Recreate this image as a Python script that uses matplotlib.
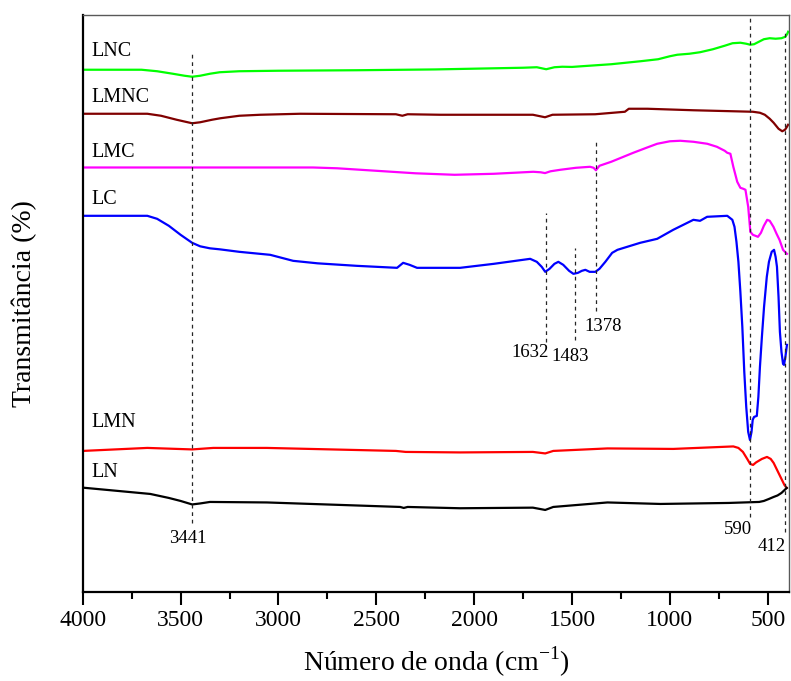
import matplotlib
matplotlib.use("Agg")
import matplotlib.pyplot as plt
from matplotlib.ticker import MultipleLocator

plt.rcParams['font.family'] = ['Liberation Serif', 'DejaVu Serif']
plt.rcParams['mathtext.fontset'] = 'custom'
plt.rcParams['mathtext.rm'] = 'Liberation Serif'

# FTIR spectra (wavenumber in cm-1, transmittance in offset arbitrary units)
lnc_w = [4000, 3700, 3620, 3540, 3480, 3441, 3400, 3350, 3300, 3200, 3000, 2600, 2200, 1750,
         1680, 1632, 1590, 1550, 1500, 1450, 1300, 1150, 1060, 1000, 962, 900, 846, 780,
         720, 680, 640, 610, 590, 570, 545, 520, 490, 460, 430, 410, 400, 396]
lnc_t = [522, 522, 520.5, 518, 516, 515, 516, 518, 519.5, 520.5, 521, 521.5, 522.3, 524,
         524.5, 522.5, 524.5, 525, 524.8, 525.5, 527.5, 530.5, 532.5, 535.5, 537, 538, 539.5, 542.5,
         546, 548.5, 549, 548, 547, 547.5, 550, 552.5, 553.5, 553, 553.5, 555, 558, 560]

lmnc_w = [4000, 3670, 3600, 3520, 3441, 3400, 3340, 3297, 3200, 3093, 2890, 2400, 2367, 2340,
          2173, 1700, 1638, 1600, 1382, 1230, 1210, 1115, 880, 576, 540, 515, 490, 470, 445,
          426, 412, 405, 396]
lmnc_t = [478, 478, 476, 472, 468.5, 469.5, 472, 473.5, 476, 477, 478, 477.5, 476, 477.5,
          477, 477, 474.5, 477, 477.5, 480, 483, 483, 481.5, 480, 479, 477, 473, 469, 463,
          460.5, 462, 464, 467]

lmc_w = [4000, 2823, 2700, 2500, 2300, 2100, 1900, 1698, 1660, 1638, 1610, 1560, 1480, 1408,
         1390, 1378, 1360, 1300, 1187, 1120, 1065, 1000, 947, 880, 809, 760, 720, 707, 691,
         676, 656, 640, 625, 614, 600, 589, 576, 550, 535, 520, 503, 490, 471, 455, 440, 422, 402]
lmc_t = [424.3, 424.3, 423.5, 421, 418.5, 417, 418, 420, 419.5, 418.7, 420.5, 422, 424, 425,
         424, 421.5, 426, 430, 439, 444, 448, 450.5, 451, 450, 448, 445, 441, 439, 438,
         425, 410, 404, 403, 402, 385, 360, 357, 355, 359, 366, 372, 371, 365, 358, 352, 342, 338]

lc_w = [4000, 3670, 3620, 3560, 3500, 3441, 3400, 3350, 3300, 3200, 3042, 2925, 2800, 2600,
        2394, 2363, 2330, 2292, 2072, 1900, 1714, 1680, 1655, 1637, 1615, 1590, 1570, 1545,
        1515, 1493, 1470, 1450, 1432, 1410, 1381, 1360, 1330, 1295, 1268, 1152, 1065, 983,
        880, 846, 810, 707, 681, 670, 660, 650, 640, 630, 620, 610, 600, 591, 583, 577, 570,
        556, 548, 540, 530, 519, 505, 494, 480, 468, 460, 453, 445, 438, 430, 422, 417, 410, 402]
lc_t = [376, 376, 373, 366, 357, 349, 345.5, 343.5, 342.5, 340, 337, 331, 328.5, 326,
        324, 329, 327, 324, 324, 328, 333, 330, 325, 320, 323, 328, 330, 327,
        321, 318, 319, 321, 322, 320, 320, 323, 330, 339, 342, 349, 353, 362,
        372, 371, 375, 376, 372, 365, 350, 330, 300, 265, 220, 185, 160, 152, 160, 172, 175,
        176, 195, 225, 255, 285, 315, 330, 340, 342, 335, 325, 295, 260, 240, 228, 227, 235, 247]

lmn_w = [4000, 3670, 3441, 3333, 3059, 2400, 2350, 2072, 1700, 1637, 1596, 1319, 983, 676,
         650, 627, 605, 590, 575, 560, 530, 504, 485, 470, 450, 430, 415, 403]
lmn_t = [141, 144, 142.5, 144, 144, 141, 140, 139.5, 140, 138.5, 141, 143.5, 143, 145.5,
         144, 140, 133, 128, 127, 129.5, 133, 135, 133, 129, 121, 113, 107, 104]

ln_w = [4000, 3655, 3560, 3500, 3441, 3400, 3350, 3059, 2378, 2360, 2340, 2072, 1700, 1637,
        1596, 1319, 1049, 700, 544, 520, 494, 470, 450, 430, 403]
ln_t = [104.3, 98, 94, 91, 87.5, 88.5, 90, 89.5, 85, 84, 85, 83.7, 84.3, 82,
        85, 89.5, 88, 89, 90, 91, 93, 95, 96.5, 99, 104]

series = [
    ("LNC", lnc_w, lnc_t, "#00ff00", 540),
    ("LMNC", lmnc_w, lmnc_t, "#800000", 494),
    ("LMC", lmc_w, lmc_t, "#ff00ff", 439),
    ("LC", lc_w, lc_t, "#0000ff", 392),
    ("LMN", lmn_w, lmn_t, "#ff0000", 169),
    ("LN", ln_w, ln_t, "#000000", 119),
]

# band markers: wavenumber, dashed segment (bottom, top), label anchor
peaks = [3441, 1632, 1483, 1378, 590, 412]
peak_lines = [(69, 539), (250, 379), (252, 344), (281, 453), (75, 577), (60, 562)]
peak_text = [(3461, 53), (1714, 239), (1510, 235), (1342, 265), (651, 62), (478, 45)]

fig = plt.figure(figsize=(7.91, 6.81), dpi=100)
ax = fig.add_axes([0.1046, 0.1307, 0.893, 0.8477])

for name, w, t, color, ylab in series:
    ax.plot(w, t, color=color, lw=1.6, solid_joinstyle='round')
    ax.text(3958, ylab, name, fontsize=14.5, ha='left', va='center')

for p, (y0, y1), (tx, ty) in zip(peaks, peak_lines, peak_text):
    ax.plot([p, p], [y0, y1], color='0.15', lw=0.9, ls=(0, (3, 3)))
    ax.text(tx, ty, str(p), fontsize=13.5, ha='center', va='center')

ax.set_xlim(4000, 391)
ax.set_ylim(0, 577)
ax.xaxis.set_major_locator(MultipleLocator(500))
ax.xaxis.set_minor_locator(MultipleLocator(250))
ax.tick_params(axis='x', which='major', direction='out', length=9, width=1.5,
               labelsize=17, pad=4)
ax.tick_params(axis='x', which='minor', direction='out', length=5, width=1.5)
ax.set_yticks([])

for side in ['left', 'bottom']:
    ax.spines[side].set_linewidth(1.6)
    ax.spines[side].set_color('black')
for side in ['top', 'right']:
    ax.spines[side].set_linewidth(1.0)
    ax.spines[side].set_color('0.35')

ax.set_xlabel('Número de onda (cm$^{-1}$)', fontsize=20, labelpad=10)
ax.set_ylabel('Transmitância (%)', fontsize=20, labelpad=33)

fig.savefig('out.png', dpi=100)
